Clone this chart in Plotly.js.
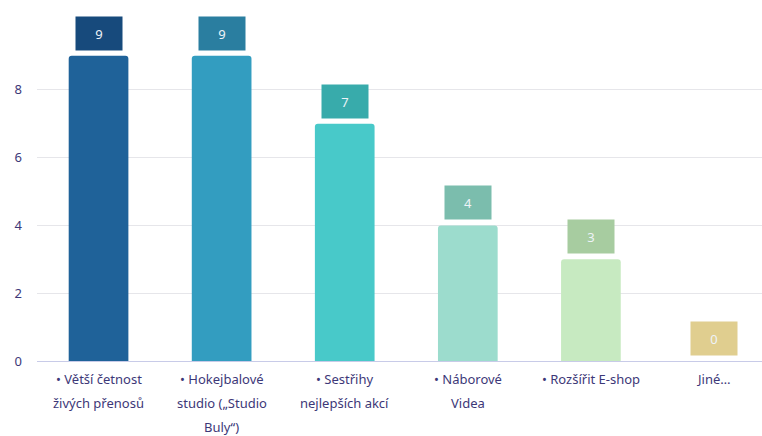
<!DOCTYPE html>
<html>
<head>
<meta charset="utf-8">
<script src="https://cdn.plot.ly/plotly-3.0.1.min.js"></script>
<style>html,body{margin:0;padding:0;background:#fff;}#chart{width:762px;height:436px;}</style>
</head>
<body>
<div id="chart"></div>
<script>
const categories = ["• Větší četnost\nživých přenosů", "• Hokejbalové\nstudio („Studio\nBuly“)", "• Sestřihy\nnejlepších akcí", "• Náborové\nVidea", "• Rozšířit E-shop", "Jiné…"];
const values = [9, 9, 7, 4, 3, 0];
const barColors = ["#1f6299", "#339dc0", "#48c9c9", "#9cdccd", "#c7eac1", "#e6d8a0"];
const boxColors = ["#174a7c", "#2a7ea0", "#38abab", "#7bbdad", "#a7cca0", "#e0ce8f"];
const yTicks = [0, 2, 4, 6, 8];

const xIdx = categories.map((c, i) => i);
const font = "Noto Sans, Lato, sans-serif";
const textColor = "#3d3878";

const annotations = [];
values.forEach((v, i) => {
  annotations.push({
    x: i, y: v, xref: "x", yref: "y", text: String(v), showarrow: false,
    yanchor: "bottom", yshift: 5, width: 44, height: 31, borderpad: 1,
    bgcolor: boxColors[i], font: {family: font, size: 13, color: "#eef3f8"}
  });
});
categories.forEach((c, i) => {
  c.split("\n").forEach((line, j) => {
    annotations.push({
      x: i, y: 0, xref: "x", yref: "paper", text: line, showarrow: false,
      yanchor: "middle", yshift: -18 - 24 * j,
      font: {family: font, size: 13, color: textColor}
    });
  });
});

Plotly.newPlot("chart", [{
  type: "bar", x: xIdx, y: values,
  marker: {color: barColors, line: {width: 0}},
  width: 0.485, hoverinfo: "none"
}], {
  width: 762, height: 436,
  margin: {l: 37, r: 0, t: 5, b: 75},
  paper_bgcolor: "#ffffff", plot_bgcolor: "#ffffff",
  barcornerradius: 3,
  showlegend: false,
  xaxis: {range: [-0.5, 5.39], showticklabels: false, showgrid: false, zeroline: false,
          showline: true, linecolor: "#c8cbe8", linewidth: 1, fixedrange: true},
  yaxis: {range: [0, 10.5], tickvals: yTicks, ticktext: yTicks.map(String),
          showgrid: true, gridcolor: "#e6e6ea", zeroline: false,
          tickfont: {family: font, size: 13, color: textColor}, ticks: "", ticklabelstandoff: 14, fixedrange: true},
  annotations: annotations,
  font: {family: font}
}, {displayModeBar: false, staticPlot: true});
</script>
</body>
</html>
